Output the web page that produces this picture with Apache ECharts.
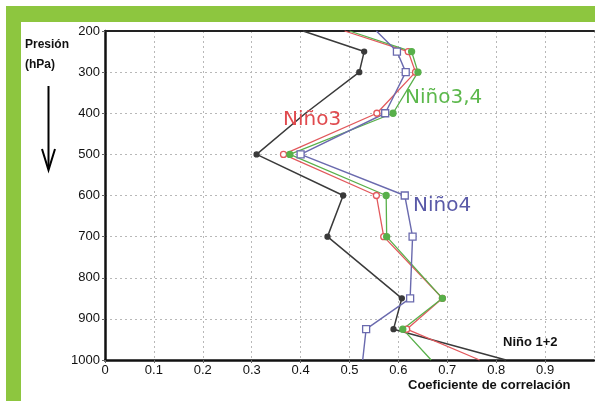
<!DOCTYPE html>
<html><head><meta charset="utf-8">
<script src="https://cdn.jsdelivr.net/npm/echarts@6/dist/echarts.min.js"></script>
<style>html,body{margin:0;padding:0;background:#fff}#c{width:595px;height:401px}</style>
</head><body><div id="c"></div>
<script>
// Pressure levels (hPa)
var levels = [200, 250, 300, 400, 500, 600, 700, 850, 925, 1000];
// Correlation coefficients per index
var nino12 = [0.405, 0.53, 0.52, 0.41, 0.31, 0.487, 0.455, 0.607, 0.59, 0.82];
var nino3  = [0.49, 0.62, 0.635, 0.556, 0.365, 0.555, 0.57, 0.69, 0.617, 0.766];
var nino34 = [0.50, 0.627, 0.64, 0.589, 0.378, 0.575, 0.576, 0.69, 0.609, 0.667];
var nino4  = [0.555, 0.597, 0.615, 0.573, 0.40, 0.613, 0.629, 0.624, 0.534, 0.527];
var xTicks = [0, 0.1, 0.2, 0.3, 0.4, 0.5, 0.6, 0.7, 0.8, 0.9];

function pairs(vals, size, hidden) {
  return vals.map(function (v, i) {
    var noMark = (i === 0 || i === vals.length - 1 || (hidden && hidden.indexOf(i) >= 0));
    return { value: [v, levels[i]], symbolSize: noMark ? 0 : size };
  });
}

var chart = echarts.init(document.getElementById('c'), null, {renderer: 'canvas'});
var FONT = '"Liberation Sans", Arial, sans-serif';
var gridLine = { show: true, lineStyle: { color: '#b8b8b8', type: [2, 3], width: 1 } };

function series(name, vals, color, symbol, size, filled, width, hidden) {
  return {
    name: name, type: 'line', data: pairs(vals, size, hidden),
    symbol: symbol, showAllSymbol: true,
    lineStyle: { color: color, width: width || 1.4 },
    itemStyle: { color: filled ? color : '#fff', borderColor: color, borderWidth: 1.3 },
    z: 3, clip: false, animation: false
  };
}

chart.setOption({
  animation: false,
  backgroundColor: '#fff',
  grid: { left: 105, top: 31, right: 1, bottom: 41 },
  xAxis: [{
    type: 'value', min: 0, max: 1, interval: 0.1,
    axisLine: { show: true, lineStyle: { color: '#111', width: 2.5 } },
    axisTick: { show: true, length: 3, lineStyle: { color: '#666' } },
    axisLabel: { showMaxLabel: false, margin: 4, color: '#111', fontFamily: FONT, fontSize: 13,
      formatter: function (v) { var r = Math.round(v * 10) / 10; return xTicks.indexOf(r) >= 0 ? String(r) : ''; } },
    splitLine: gridLine
  }, {
    type: 'value', position: 'top', min: 0, max: 1, interval: 0.1,
    axisLine: { show: true, onZero: false, lineStyle: { color: '#222', width: 2 } },
    axisTick: { show: false }, axisLabel: { show: false }, splitLine: { show: false }
  }],
  yAxis: {
    type: 'value', inverse: true, min: 200, max: 1000, interval: 100,
    axisLine: { show: true, onZero: false, lineStyle: { color: '#111', width: 2.5 } },
    axisTick: { show: true, length: 3, lineStyle: { color: '#666' } },
    axisLabel: { margin: 5, color: '#111', fontFamily: FONT, fontSize: 13,
      formatter: function (v) { return String(v); } },
    splitLine: gridLine
  },
  series: [
    series('Niño 1+2', nino12, '#3a3a3a', 'circle', 5, true, 1.5, [3]),
    series('Niño3', nino3, '#e2585c', 'circle', 6, false, 1.3),
    series('Niño3,4', nino34, '#58b04a', 'circle', 6, true, 1.3),
    series('Niño4', nino4, '#6a6aae', 'rect', 7, false, 1.4)
  ],
  graphic: [
    { type: 'rect', shape: { x: 6, y: 6, width: 589, height: 16 }, style: { fill: '#8dc63f' }, z: 100 },
    { type: 'rect', shape: { x: 6, y: 22, width: 15, height: 379 }, style: { fill: '#8dc63f' }, z: 100 },
    { type: 'text', x: 25, y: 45, style: { text: 'Presión', font: 'bold 12px ' + FONT, fill: '#111', textVerticalAlign: 'middle' }, z: 100 },
    { type: 'text', x: 25, y: 65, style: { text: '(hPa)', font: 'bold 12px ' + FONT, fill: '#111', textVerticalAlign: 'middle' }, z: 100 },
    { type: 'line', shape: { x1: 48.5, y1: 86, x2: 48.5, y2: 169 }, style: { stroke: '#000', lineWidth: 2 }, z: 100 },
    { type: 'polyline', shape: { points: [[42, 149], [48.5, 170], [55, 149]] }, style: { stroke: '#000', lineWidth: 2, fill: null }, z: 100 },
    { type: 'text', x: 283, y: 120, style: { text: 'Niño3', font: '20px "DejaVu Sans", sans-serif', fill: '#e04a4e', textVerticalAlign: 'middle' }, z: 100 },
    { type: 'text', x: 405, y: 98, style: { text: 'Niño3,4', font: '20px "DejaVu Sans", sans-serif', fill: '#5cb84c', textVerticalAlign: 'middle' }, z: 100 },
    { type: 'text', x: 413, y: 206, style: { text: 'Niño4', font: '20px "DejaVu Sans", sans-serif', fill: '#5a5aa8', textVerticalAlign: 'middle' }, z: 100 },
    { type: 'text', x: 503, y: 342, style: { text: 'Niño 1+2', font: 'bold 13px ' + FONT, fill: '#111', textVerticalAlign: 'middle' }, z: 100 },
    { type: 'text', x: 408, y: 385, style: { text: 'Coeficiente de correlación', font: 'bold 13px ' + FONT, fill: '#111', textVerticalAlign: 'middle' }, z: 100 }
  ]
});
</script>
</body></html>
